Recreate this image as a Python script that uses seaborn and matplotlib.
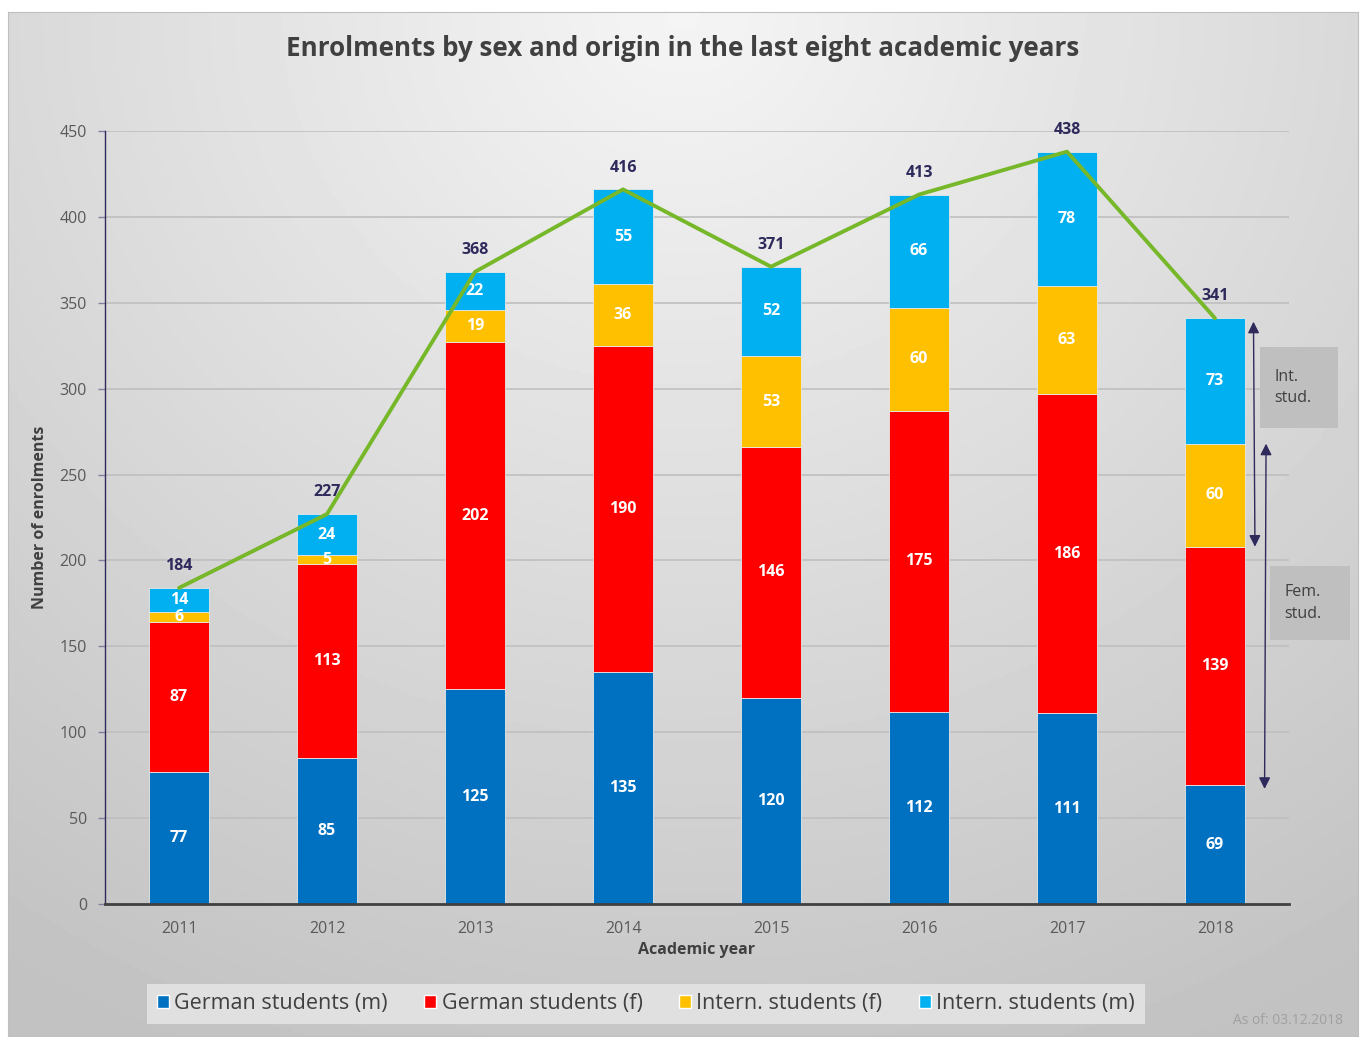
import numpy as np
import matplotlib
matplotlib.use("Agg")
import matplotlib.pyplot as plt
from matplotlib.patches import Rectangle
import seaborn as sns

# data
years = ["2011", "2012", "2013", "2014", "2015", "2016", "2017", "2018"]
german_m = [77, 85, 125, 135, 120, 112, 111, 69]
german_f = [87, 113, 202, 190, 146, 175, 186, 139]
intern_f = [6, 5, 19, 36, 53, 60, 63, 60]
intern_m = [14, 24, 22, 55, 52, 66, 78, 73]
series_names = ["German students (m)", "German students (f)",
                "Intern. students (f)", "Intern. students (m)"]
series_colors = ["#0070C0", "#FF0000", "#FFC000", "#00B0F0"]

sns.set_style("white")
plt.rcParams["font.family"] = ["Open Sans", "DejaVu Sans"]

W, H = 1362, 1037
fig = plt.figure(figsize=(W / 100, H / 100), dpi=100)
fig.patch.set_facecolor("white")

# gradient panel behind the chart
bg = fig.add_axes([8 / W, 1 - 1036 / H, 1350 / W, 1024 / H])
yy, xx = np.mgrid[0:1:300j, 0:1:400j]
d = np.sqrt(((xx - 0.5) * 1.1) ** 2 + (yy * 0.9) ** 2)
shade = 0.96 - 0.2 * np.clip(d, 0, 1)
bg.imshow(shade, cmap="gray", vmin=0, vmax=1, aspect="auto",
          extent=[0, 1, 0, 1], origin="upper")
bg.set_xticks([]); bg.set_yticks([])
for s in bg.spines.values():
    s.set_color("#BFBFBF")

ax = fig.add_axes([105 / W, 1 - 904 / H, 1184 / W, 773 / H])
ax.patch.set_alpha(0)

layers = [german_m, german_f, intern_f, intern_m]
bottom = np.zeros(len(years))
for vals, name, col in zip(layers, series_names, series_colors):
    sns.barplot(x=years, y=vals, bottom=bottom, color=col, saturation=1,
                width=0.4, errorbar=None, label=name, ax=ax,
                edgecolor="#E8E8E8", linewidth=0.6, zorder=2)
    bottom = bottom + np.array(vals)
totals = bottom

for cont in ax.containers:
    ax.bar_label(cont, label_type="center", color="white",
                 fontweight="bold", fontsize=11.5)

xpos = np.arange(len(years))
sns.lineplot(x=xpos, y=totals, color="#77B82A", linewidth=2.8, ax=ax,
             zorder=4)
for x, t in zip(xpos, totals):
    ax.text(x, t + 8, f"{int(t)}", ha="center", va="bottom",
            fontsize=11.5, fontweight="bold", color="#2E2A5C", zorder=5)

ax.set_xlim(-0.5, len(years) - 0.5)
ax.set_ylim(0, 450)
ax.set_yticks(np.arange(0, 451, 50))
ax.yaxis.grid(True, color="#BFBFBF", linewidth=1.2, zorder=0)
ax.set_axisbelow(True)
ax.set_xticks(xpos)
ax.set_xticklabels(years)
ax.set_xticks(np.arange(-0.5, len(years)), minor=True)
ax.tick_params(axis="x", which="major", length=0, pad=12,
               labelsize=11.5, labelcolor="#595959")
ax.tick_params(axis="x", which="minor", length=5, width=2,
               color="#404040", direction="out")
ax.tick_params(axis="y", length=5, width=1, color="#7F7F9F",
               labelsize=11.5, labelcolor="#595959", pad=8, left=True)
for s in ["top", "right"]:
    ax.spines[s].set_visible(False)
ax.spines["left"].set_color("#2E2A5C")
ax.spines["left"].set_linewidth(1)
ax.spines["bottom"].set_color("#404040")
ax.spines["bottom"].set_linewidth(2)
if ax.legend_:
    ax.legend_.remove()

ax.set_ylabel("Number of enrolments", fontsize=11.5, fontweight="bold",
              color="#404040", labelpad=8)
ax.set_xlabel("Academic year", fontsize=11.5, fontweight="bold",
              color="#404040", labelpad=4)

# range arrows for the last year
last = len(years) - 1
arrow_kw = dict(arrowstyle="<|-|>", color="#2E2A5C", lw=1,
                mutation_scale=17, shrinkA=0, shrinkB=0)
int_lo = german_m[last] + german_f[last]
ax.annotate("", xy=(last + 0.26, totals[last] - 2),
            xytext=(last + 0.27, int_lo), arrowprops=arrow_kw,
            annotation_clip=False)
fem_hi = int_lo + intern_f[last]
ax.annotate("", xy=(last + 0.345, fem_hi), xytext=(last + 0.335, german_m[last] - 2),
            arrowprops=arrow_kw, annotation_clip=False)

for (x0, y0, x1, y1), txt in [((1260, 347, 1338, 428), "Int.\nstud."),
                              ((1270, 566, 1350, 640), "Fem.\nstud.")]:
    fig.add_artist(Rectangle((x0 / W, 1 - y1 / H), (x1 - x0) / W, (y1 - y0) / H,
                             transform=fig.transFigure, facecolor="#BFBFBF",
                             edgecolor="none"))
    fig.text((x0 + 14) / W, 1 - (y0 + y1) / 2 / H, txt, ha="left", va="center",
             fontsize=11.5, color="#404040", linespacing=1.45)

fig.text(683 / W, 1 - 48 / H,
         "Enrolments by sex and origin in the last eight academic years",
         ha="center", va="center", fontsize=18.7, fontweight="bold",
         color="#404040")

handles = [Rectangle((0, 0), 1, 1, facecolor=c) for c in series_colors]
fig.legend(handles, series_names, loc="center", ncol=4,
           bbox_to_anchor=(646 / W, 1 - 1004 / H), frameon=True,
           facecolor="#E0E0E0", edgecolor="none", fancybox=False,
           fontsize=15.5, handlelength=0.55, handleheight=0.55,
           handletextpad=0.25, columnspacing=1.7, labelcolor="#404040",
           borderpad=0.45, framealpha=1)

fig.text(1343 / W, 1 - 1020 / H, "As of: 03.12.2018", ha="right",
         va="center", fontsize=10, color="#A0A0A0")

fig.savefig("out.png", dpi=100)
